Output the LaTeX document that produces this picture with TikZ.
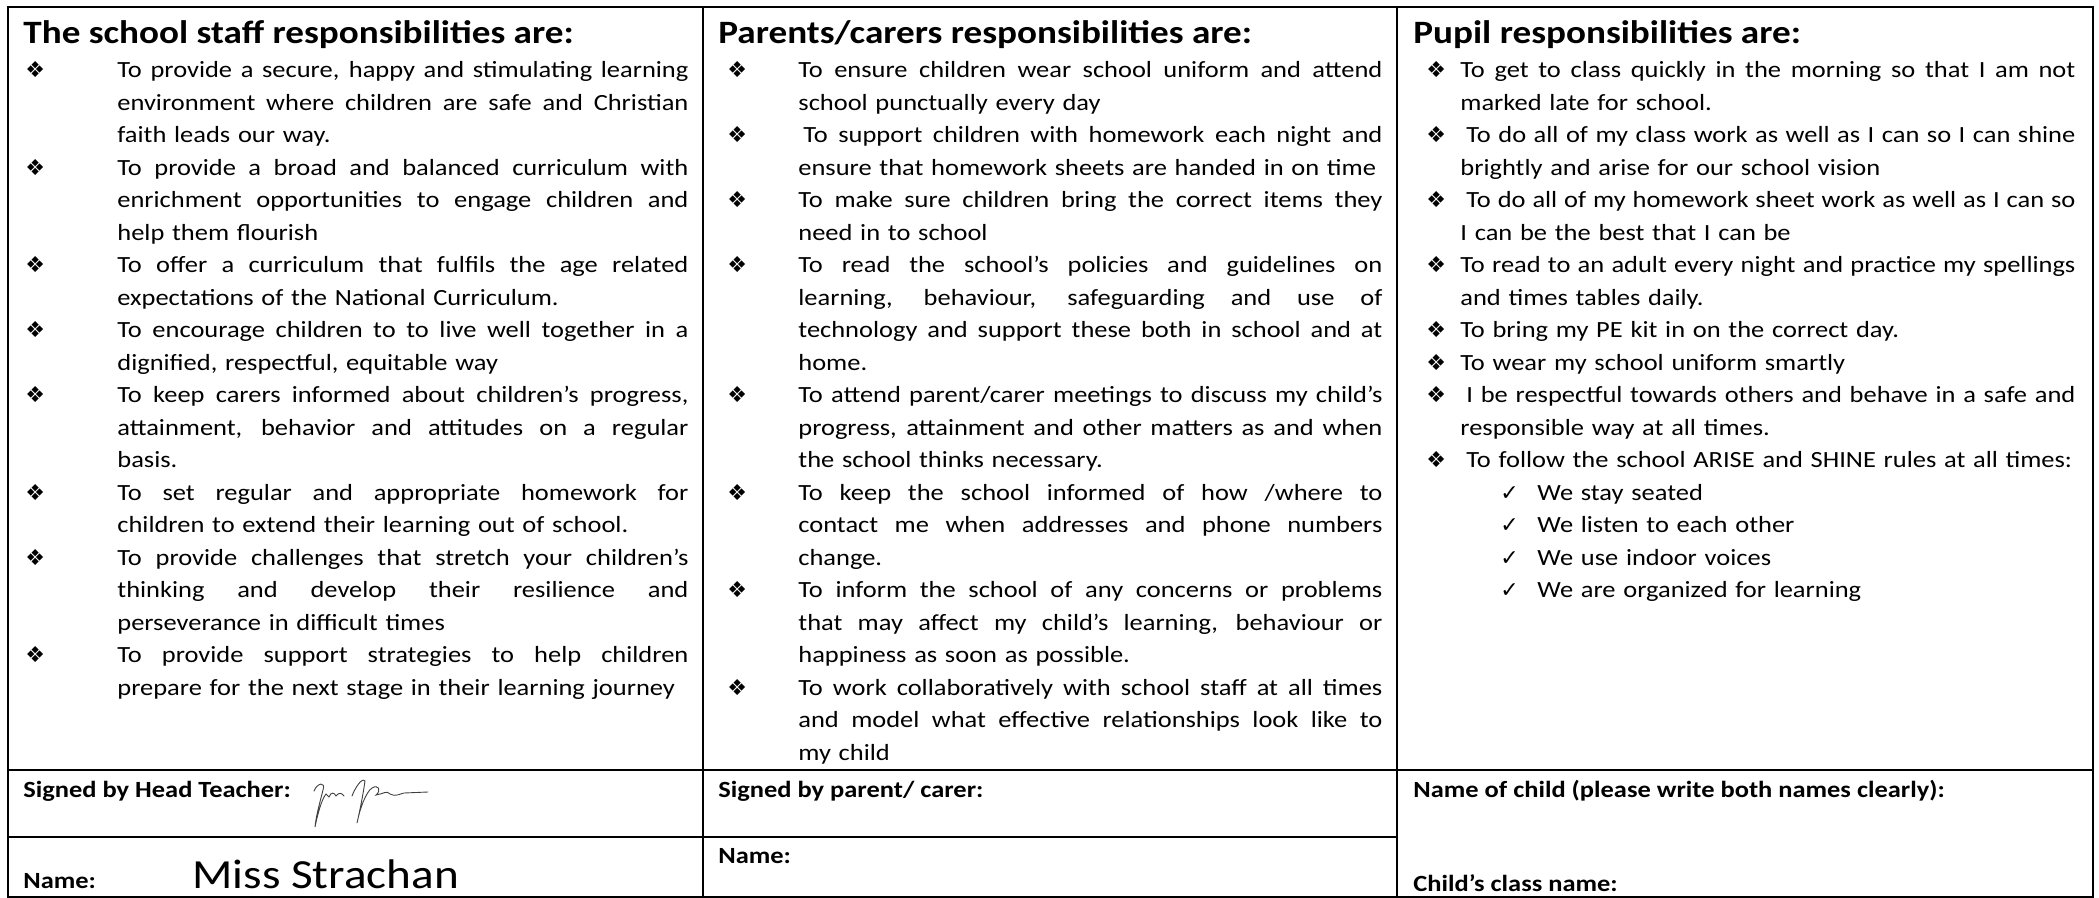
\documentclass[tikz,border=0pt]{standalone}
\usepackage{fontspec}
\setmainfont{Carlito}[FakeStretch=1.14]
\newfontfamily\symfont{DejaVu Sans}
\newlength\bulgap
\newlength\colw
\newcommand\bodyfont{\fontsize{11.6}{16.25}\selectfont}
\newcommand\bul{\leavevmode\llap{\hbox to \bulgap{\symfont\fontsize{11}{10}\selectfont ❖\hfil}}}
\newcommand\chk{\leavevmode\hspace*{20pt}\hbox to 18.5pt{\symfont\fontsize{11}{10}\selectfont ✓\hfil}}
\newcommand\jl[2][0pt]{\leavevmode\hspace*{#1}%
  \hbox to \dimexpr\colw-#1\relax{\spaceskip=0.23em plus 1fil\xspaceskip=\spaceskip #2}}

\begin{document}
\begin{tikzpicture}[x=0.5pt,y=-0.5pt,
  frameline/.style={line width=1.3pt},
  colhead/.style={anchor=base west,inner sep=0pt,font=\bfseries\fontsize{16.3}{19}\selectfont},
  colbody/.style n args={2}{anchor=base west,inner sep=0pt,text width=#1,font=\bodyfont,
    execute at begin node={\setlength{\colw}{#1}\setlength{\bulgap}{#2}}},
  signlab/.style={anchor=base west,inner sep=0pt,font=\bfseries\bodyfont},
  sig/.style={line width=0.45pt,black!75,line cap=round}]
  \useasboundingbox (0,0) rectangle (2099,898);
  \draw[frameline] (8,7) rectangle (2093,897);
  \draw[frameline] (703,7) -- (703,897) (1397,7) -- (1397,897);
  \draw[frameline] (8,770) -- (2093,770) (8,837) -- (1397,837);

  \draw (23,44) node[colhead] (staffhead) {The school staff responsibilities are:};
  \draw (718,44) node[colhead] (parenthead) {Parents/carers responsibilities are:};
  \draw (1413,44) node[colhead] (pupilhead) {Pupil responsibilities are:};

  \draw (117,78) node[colbody={285.5pt}{46pt}] (staffbody) {%
    \bul\jl{To provide a secure, happy and stimulating learning}\\
    \jl{environment where children are safe and Christian}\\
    faith leads our way.\\
    \bul\jl{To provide a broad and balanced curriculum with}\\
    \jl{enrichment opportunities to engage children and}\\
    help them flourish\\
    \bul\jl{To offer a curriculum that fulfils the age related}\\
    expectations of the National Curriculum.\\
    \bul\jl{To encourage children to to live well together in a}\\
    dignified, respectful, equitable way\\
    \bul\jl{To keep carers informed about children’s progress,}\\
    \jl{attainment, behavior and attitudes on a regular}\\
    basis.\\
    \bul\jl{To set regular and appropriate homework for}\\
    children to extend their learning out of school.\\
    \bul\jl{To provide challenges that stretch your children’s}\\
    \jl{thinking and develop their resilience and}\\
    perseverance in difficult times\\
    \bul\jl{To provide support strategies to help children}\\
    prepare for the next stage in their learning journey};

  \draw (798,78) node[colbody={292pt}{35.5pt}] (parentbody) {%
    \bul\jl{To ensure children wear school uniform and attend}\\
    school punctually every day\\
    \bul\jl[2.5pt]{To support children with homework each night and}\\
    ensure that homework sheets are handed in on time\\
    \bul\jl{To make sure children bring the correct items they}\\
    need in to school\\
    \bul\jl{To read the school’s policies and guidelines on}\\
    \jl{learning, behaviour, safeguarding and use of}\\
    \jl{technology and support these both in school and at}\\
    home.\\
    \bul\jl{To attend parent/carer meetings to discuss my child’s}\\
    \jl{progress, attainment and other matters as and when}\\
    the school thinks necessary.\\
    \bul\jl{To keep the school informed of how /where to}\\
    \jl{contact me when addresses and phone numbers}\\
    change.\\
    \bul\jl{To inform the school of any concerns or problems}\\
    \jl{that may affect my child’s learning, behaviour or}\\
    happiness as soon as possible.\\
    \bul\jl{To work collaboratively with school staff at all times}\\
    \jl{and model what effective relationships look like to}\\
    my child};

  \draw (1460,78) node[colbody={307.5pt}{17pt}] (pupilbody) {%
    \bul\jl{To get to class quickly in the morning so that I am not}\\
    marked late for school.\\
    \bul\jl[3pt]{To do all of my class work as well as I can so I can shine}\\
    brightly and arise for our school vision\\
    \bul\jl[3pt]{To do all of my homework sheet work as well as I can so}\\
    I can be the best that I can be\\
    \bul\jl{To read to an adult every night and practice my spellings}\\
    and times tables daily.\\
    \bul To bring my PE kit in on the correct day.\\
    \bul To wear my school uniform smartly\\
    \bul\jl[3pt]{I be respectful towards others and behave in a safe and}\\
    responsible way at all times.\\
    \bul\hspace*{3pt}To follow the school ARISE and SHINE rules at all times:\\
    \chk We stay seated\\
    \chk We listen to each other\\
    \chk We use indoor voices\\
    \chk We are organized for learning};

  \draw (23,797) node[signlab] (headsign) {Signed by Head Teacher:};
  \draw (23,888) node[signlab] (headname) {Name:};
  \draw (192,888) node[anchor=base west,inner sep=0pt,font=\fontsize{20.7}{24}\selectfont] (staffname) {Miss Strachan};
  \draw (718,797) node[signlab] (parentsign) {Signed by parent/ carer:};
  \draw (718,863) node[signlab] (parentname) {Name:};
  \draw (1413,797) node[signlab] (childname) {Name of child (please write both names clearly):};
  \draw (1413,891) node[signlab] (childclass) {Child’s class name:};

  \draw[sig] (314,791) .. controls (317,783) and (326,781) .. (323,790) .. controls (320,802) and (316,816) .. (315,827)
    .. controls (318,812) and (322,799) .. (326,794) -- (329,797) .. controls (331,792) and (334,792) .. (336,796)
    .. controls (339,792) and (342,793) .. (344,796);
  \draw[sig] (352,796) .. controls (355,788) and (362,777) .. (365,781) .. controls (363,795) and (360,810) .. (357,823)
    .. controls (360,808) and (366,792) .. (372,788) .. controls (378,784) and (382,790) .. (376,795)
    .. controls (383,794) and (387,790) .. (390,794) .. controls (395,797) and (400,794) .. (404,793) -- (428,792);
\end{tikzpicture}
\end{document}
